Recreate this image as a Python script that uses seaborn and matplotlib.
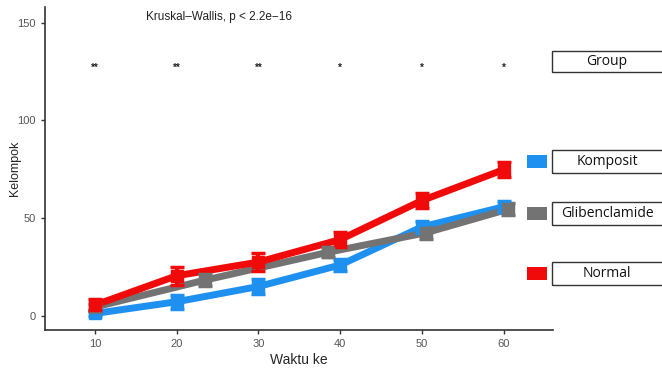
import numpy as np
import pandas as pd
import matplotlib
matplotlib.use('Agg')
import matplotlib.pyplot as plt
import seaborn as sns
from matplotlib.patches import Rectangle

groups = ['Komposit', 'Glibenclamide', 'Normal']
colors = {'Komposit': '#1E90F0', 'Glibenclamide': '#737373', 'Normal': '#F00A0A'}

komposit_x = [10, 20, 30, 40, 50, 60]
komposit_y = [1.2, 7.2, 15.0, 26.0, 45.5, 55.8]
komposit_err = [1.5, 3.5, 4.0, 3.0, 3.0, 2.8]

gliben_x = [10, 23.5, 38.5, 50.5, 60.5]
gliben_y = [4.5, 18.3, 32.5, 42.5, 54.5]
gliben_err = [1.5, 3.0, 2.5, 3.0, 3.0]

normal_x = [10, 20, 30, 40, 50, 60]
normal_y = [5.5, 20.5, 27.5, 39.0, 59.0, 74.8]
normal_err = [3.0, 4.5, 4.5, 4.0, 4.0, 4.0]

sig_x = [10, 20, 30, 40, 50, 60]
sig_labels = ['**', '**', '**', '*', '*', '*']
sig_y = 127

df = pd.concat([
    pd.DataFrame({'Waktu': komposit_x, 'Nilai': komposit_y, 'err': komposit_err, 'Group': 'Komposit'}),
    pd.DataFrame({'Waktu': gliben_x, 'Nilai': gliben_y, 'err': gliben_err, 'Group': 'Glibenclamide'}),
    pd.DataFrame({'Waktu': normal_x, 'Nilai': normal_y, 'err': normal_err, 'Group': 'Normal'}),
], ignore_index=True)

sns.set_style('white')
plt.rcParams['font.family'] = ['Liberation Sans', 'DejaVu Sans']

fig = plt.figure(figsize=(6.62, 3.68), dpi=100)
ax = fig.add_axes([0.068, 0.103, 0.767, 0.878])

for g in ['Komposit', 'Glibenclamide', 'Normal']:
    d = df[df['Group'] == g]
    sns.lineplot(data=d, x='Waktu', y='Nilai', color=colors[g], linewidth=5,
                 ax=ax, legend=False, zorder=3)
    ax.errorbar(d['Waktu'], d['Nilai'], yerr=d['err'], fmt='s', color=colors[g],
                markersize=8, elinewidth=3, capsize=5, capthick=2.5, zorder=4)

for x, lab in zip(sig_x, sig_labels):
    ax.text(x, sig_y, lab, ha='center', va='center', fontsize=7, fontweight='bold', color='#222222')

ax.text(25.2, 153, 'Kruskal\u2013Wallis, p < 2.2e\u221216', ha='center', va='center',
        fontsize=8.5, color='#222222')

ax.set_xlim(3.9, 66)
ax.set_ylim(-7.3, 158)
ax.set_xticks([10, 20, 30, 40, 50, 60])
ax.set_yticks([0, 50, 100, 150])
ax.tick_params(axis='both', labelsize=8, labelcolor='#555555', length=3, width=1,
               color='#333333', direction='out', bottom=True, left=True)
ax.set_xlabel('Waktu ke', fontsize=10, labelpad=3)
ax.set_ylabel('Kelompok', fontsize=9)
ax.yaxis.set_label_coords(-0.048, 0.5)
sns.despine(ax=ax)
for s in ['left', 'bottom']:
    ax.spines[s].set_color('#333333')
    ax.spines[s].set_linewidth(1.2)

# legend drawn as boxes on the right
W, H = 662, 368
def box(y_top, y_bot, label, color=None):
    fig.patches.append(Rectangle((552 / W, 1 - y_bot / H), 115 / W, (y_bot - y_top) / H,
                                 transform=fig.transFigure, fill=False,
                                 edgecolor='#333333', linewidth=1))
    fig.text(607 / W, 1 - (y_top + y_bot) / 2 / H, label, ha='center', va='center',
             fontsize=10, family=['Open Sans', 'DejaVu Sans'], color='#111111')
    if color is not None:
        fig.patches.append(Rectangle((527 / W, 1 - (y_top + y_bot) / 2 / H - 6.5 / H), 20 / W, 13 / H,
                                     transform=fig.transFigure, facecolor=color,
                                     edgecolor='none'))

box(51, 72, 'Group')
box(150, 173, 'Komposit', colors['Komposit'])
box(202, 225, 'Glibenclamide', colors['Glibenclamide'])
box(262, 285, 'Normal', colors['Normal'])

plt.savefig('out.png', dpi=100, facecolor='white')
